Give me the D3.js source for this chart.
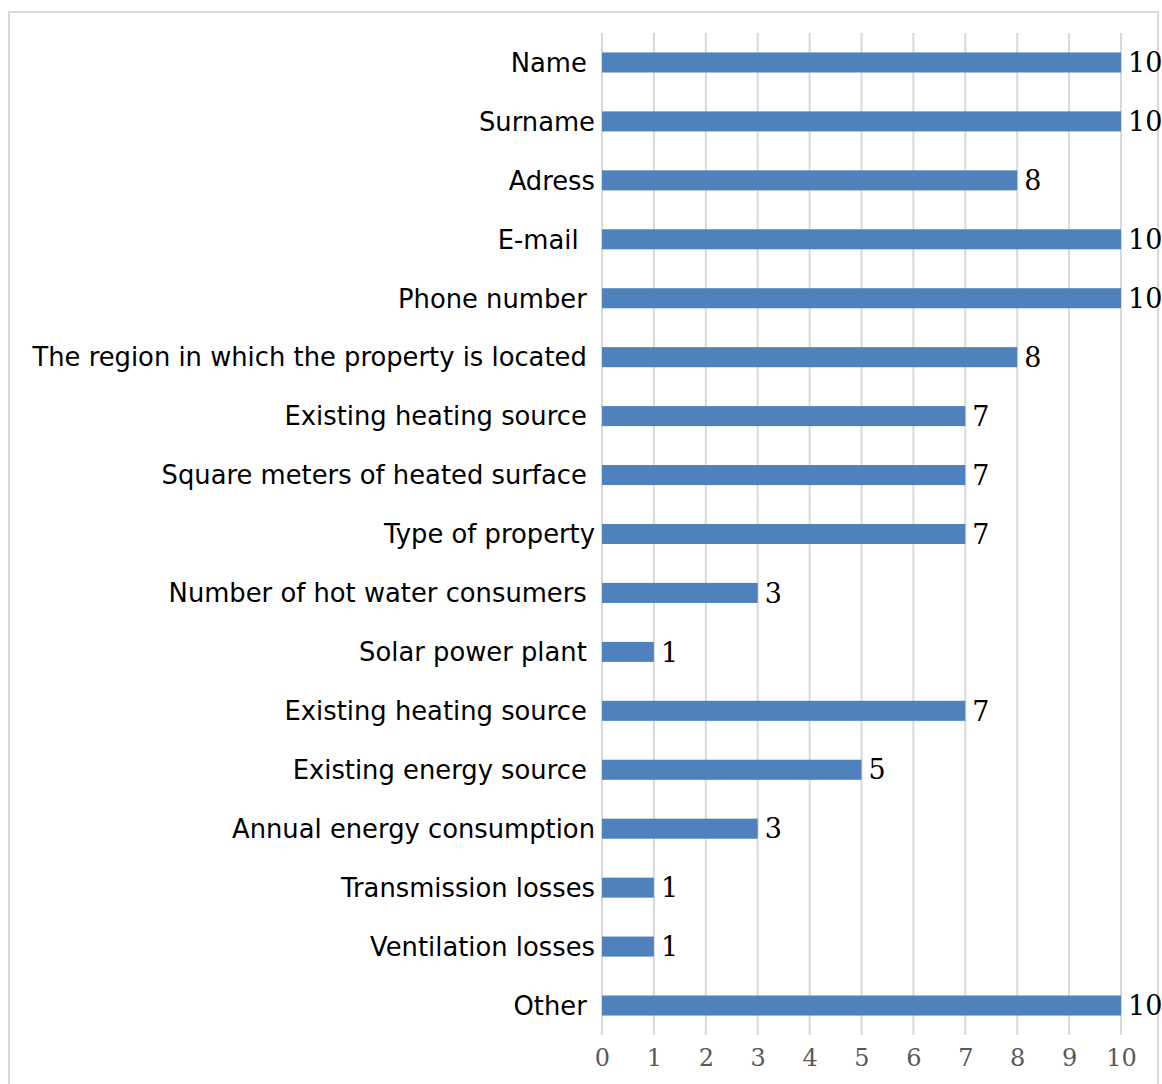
<!DOCTYPE html>
<html><head><meta charset="utf-8">
<script src="https://cdn.jsdelivr.net/npm/d3@7"></script>
<style>
html,body{margin:0;padding:0;background:#fff;}
svg{display:block;}
</style></head>
<body>
<svg id="chart" width="1162" height="1084"></svg>
<script>
const categories = ["Name ", "Surname", "Adress", "E-mail  ", "Phone number ", "The region in which the property is located ",
  "Existing heating source ", "Square meters of heated surface ", "Type of property", "Number of hot water consumers ",
  "Solar power plant ", "Existing heating source ", "Existing energy source ", "Annual energy consumption",
  "Transmission losses", "Ventilation losses", "Other "];
const values = [10, 10, 8, 10, 10, 8, 7, 7, 7, 3, 1, 7, 5, 3, 1, 1, 10];
const tickValues = [0, 1, 2, 3, 4, 5, 6, 7, 8, 9, 10];

const svg = d3.select("#chart");
svg.append("rect").attr("x", 9).attr("y", 12).attr("width", 1149).attr("height", 1090)
  .attr("fill", "#fff").attr("stroke", "#d9d9d9").attr("stroke-width", 2);

const pLeft = 602, pRight = 1121, pTop = 33, pBottom = 1035;
const x = d3.scaleLinear().domain([0, 10]).range([pLeft, pRight]);
const idx = categories.map((d, i) => i);
const y = d3.scaleBand().domain(idx).range([pTop, pBottom]).paddingInner(0.66).paddingOuter(0.33);

// gridlines
svg.append("g").selectAll("line").data(tickValues).join("line")
  .attr("x1", d => x(d)).attr("x2", d => x(d)).attr("y1", pTop).attr("y2", pBottom)
  .attr("stroke", "#d9d9d9").attr("stroke-width", 2);

// bars
svg.append("g").selectAll("rect").data(values).join("rect")
  .attr("x", x(0)).attr("y", (d, i) => y(i)).attr("width", d => x(d) - x(0)).attr("height", y.bandwidth())
  .attr("fill", "#4f81bd");

// category labels
svg.append("g").selectAll("text").data(categories).join("text")
  .attr("x", pLeft - 7).attr("y", (d, i) => y(i) + y.bandwidth() / 2).attr("dy", "0.36em")
  .attr("text-anchor", "end").style("white-space", "pre")
  .attr("font-family", "DejaVu Sans").attr("font-size", 25.8).attr("fill", "#000")
  .text(d => d);

// value labels
svg.append("g").selectAll("text").data(values).join("text")
  .attr("x", d => x(d) + 7).attr("y", (d, i) => y(i) + y.bandwidth() / 2).attr("dy", "0.36em")
  .attr("font-family", "DejaVu Serif").attr("font-size", 27).attr("fill", "#000")
  .text(d => d);

// x axis tick labels
const axis = d3.axisBottom(x).tickValues(tickValues).tickSize(0).tickPadding(14);
const ag = svg.append("g").attr("transform", `translate(0,${pBottom})`).call(axis);
ag.select(".domain").remove();
ag.selectAll("text").attr("font-family", "DejaVu Serif").attr("font-size", 24).attr("fill", "#595959");
</script>
</body></html>
